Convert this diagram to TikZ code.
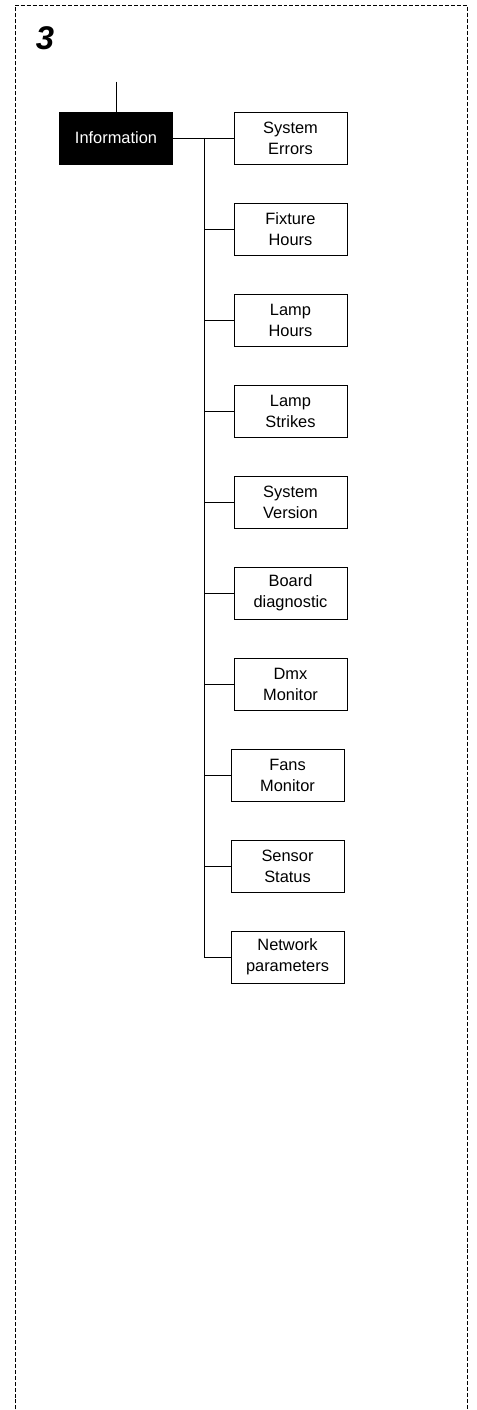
\documentclass[tikz,border=0pt]{standalone}
\usepackage{fontspec}
\setmainfont{Liberation Sans}
\usepackage{tikz}
\usetikzlibrary{positioning}
\tikzstyle{boite} = [draw,line width=0.7pt,align=center,minimum width=3.39cm,minimum height=1.56cm,inner sep=0pt,font=\fontsize{14}{18}\selectfont]
\tikzstyle{boitenoire} = [boite,fill=black,text=white]
\tikzstyle{lien} = [line width=0.7pt]
\tikzstyle{cadre} = [dash pattern=on 3.4pt off 1.7pt,line width=0.7pt]

\begin{document}
\begin{tikzpicture}

	\useasboundingbox (0,0) rectangle (14.28,-42.3);

	% cadre pointille (ouvert en bas)
	\draw[cadre] (0.45,-43) -- (0.45,-0.15) -- (14.01,-0.15) -- (14.01,-43);

	\node (num) at (1.35,-1.14) {\fontsize{28}{30}\selectfont\bfseries\itshape 3};

	\node[boitenoire] (info) at (3.48,-4.14) {Information};
	\coordinate (haut) at ([yshift=0.9cm]info.north);
	\draw[lien] (haut) -- (info.north);

	\node[boite] (syserr) at (8.715,-4.14) {System\\Errors};
	\node[boite] (fixh) at (8.715,-6.87) {Fixture\\Hours};
	\node[boite] (lamph) at (8.715,-9.60) {Lamp\\Hours};
	\node[boite] (lamps) at (8.715,-12.33) {Lamp\\Strikes};
	\node[boite] (sysver) at (8.715,-15.06) {System\\Version};
	\node[boite] (board) at (8.715,-17.79) {Board\\diagnostic};
	\node[boite] (dmx) at (8.715,-20.52) {Dmx\\Monitor};
	\node[boite] (fans) at (8.625,-23.25) {Fans\\Monitor};
	\node[boite] (sensor) at (8.625,-25.98) {Sensor\\Status};
	\node[boite] (netw) at (8.625,-28.71) {Network\\parameters};

	\draw[lien] (info.east) -- (syserr.west);
	\coordinate (tronc) at (6.12,-4.14);
	\draw[lien] (tronc) |- (netw.west);

	\draw[lien] (tronc |- fixh.west) -- (fixh.west);
	\draw[lien] (tronc |- lamph.west) -- (lamph.west);
	\draw[lien] (tronc |- lamps.west) -- (lamps.west);
	\draw[lien] (tronc |- sysver.west) -- (sysver.west);
	\draw[lien] (tronc |- board.west) -- (board.west);
	\draw[lien] (tronc |- dmx.west) -- (dmx.west);
	\draw[lien] (tronc |- fans.west) -- (fans.west);
	\draw[lien] (tronc |- sensor.west) -- (sensor.west);

\end{tikzpicture}
\end{document}
